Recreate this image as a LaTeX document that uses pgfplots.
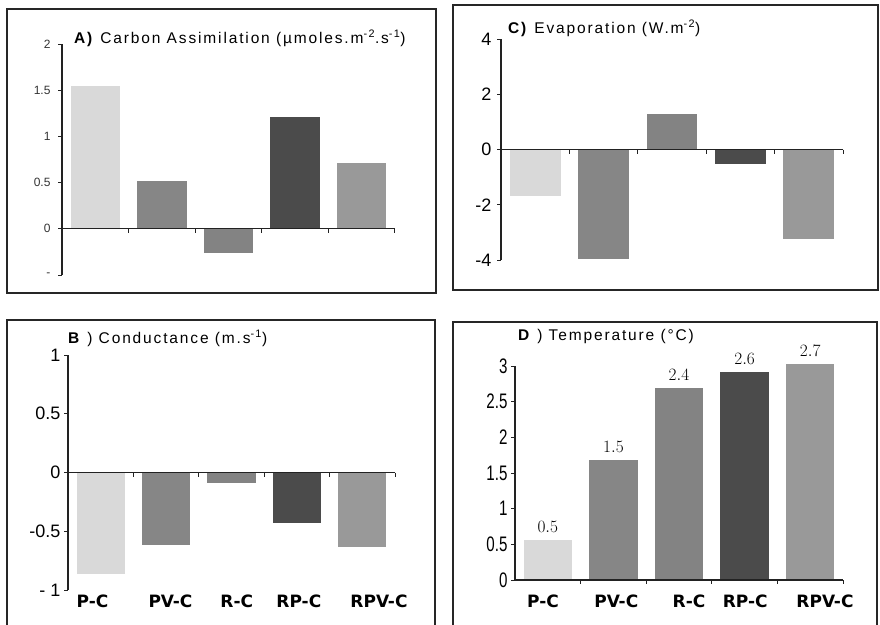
\documentclass[border=0pt]{standalone}
\usepackage{fontspec}
\usepackage{pgfplots}
\pgfplotsset{compat=1.18}
\setmainfont{Liberation Sans}
\newfontfamily\titlefont[LetterSpace=12]{Liberation Sans}
\newfontfamily\catfont{DejaVu Sans}
\newfontfamily\narrowfont[FakeStretch=0.72]{Liberation Sans}
\newfontfamily\valfont{Liberation Serif}

\definecolor{cPC}{HTML}{D9D9D9}
\definecolor{cPV}{HTML}{868686}
\definecolor{cR}{HTML}{838383}
\definecolor{cRP}{HTML}{4B4B4B}
\definecolor{cRPV}{HTML}{999999}
\definecolor{axisgray}{HTML}{222222}

\pgfplotsset{
  panel/.style={
    scale only axis, anchor=south west, clip=false,
    xmin=-0.5, xmax=4.5,
    axis y line=left, axis x line*=bottom,
    axis line style={-, line width=1.1pt, axisgray},
    x axis line style={draw=none},
    xtick=\empty, xtick style={draw=none},
    ytick align=outside, ytick style={line width=1pt, axisgray},
    major tick length=4pt,
  },
  bar/.style={ybar, bar shift=0pt, bar width=0.74, draw=none, fill=#1},
  catlabels/.style={
    xticklabels={P-C,PV-C,R-C,RP-C,RPV-C},
    xticklabel style={font=\catfont\bfseries\fontsize{17}{17}\selectfont, anchor=north},
  },
}

% zero line with tick marks between the categories
\newcommand\zeroaxis{%
  \draw[line width=1.1pt, axisgray] (axis cs:-0.5,0) -- (axis cs:4.5,0);
  \draw[line width=1pt, axisgray] (axis cs:0.5,0) -- ++(0pt,-4pt);
  \draw[line width=1pt, axisgray] (axis cs:1.5,0) -- ++(0pt,-4pt);
  \draw[line width=1pt, axisgray] (axis cs:2.5,0) -- ++(0pt,-4pt);
  \draw[line width=1pt, axisgray] (axis cs:3.5,0) -- ++(0pt,-4pt);
  \draw[line width=1pt, axisgray] (axis cs:4.5,0) -- ++(0pt,-4pt);
}

\begin{document}
\begin{tikzpicture}
\path[use as bounding box] (0pt,0pt) rectangle (880pt,-624pt);

% panel frames
\draw[line width=1.6pt, black!85] (7pt,-9pt) rectangle (436pt,-293pt);
\draw[line width=1.6pt, black!85] (453pt,-5pt) rectangle (878pt,-290pt);
\draw[line width=1.6pt, black!85] (7pt,-320pt) rectangle (435pt,-640pt);
\draw[line width=1.6pt, black!85] (453pt,-322pt) rectangle (877pt,-640pt);

% A) carbon assimilation
\begin{axis}[panel, at={(62pt,-275pt)}, width=333pt, height=231pt,
  ymin=-0.5, ymax=2, ytick={-0.5,0,0.5,1,1.5,2},
  yticklabels={-,0,0.5,1,1.5,2},
  yticklabel style={font=\fontsize{12}{12}\selectfont, text=black!80, xshift=-4pt}]
  \addplot[bar=cPC]  coordinates {(0,1.55)};
  \addplot[bar=cPV]  coordinates {(1,0.52)};
  \addplot[bar=cR]   coordinates {(2,-0.26)};
  \addplot[bar=cRP]  coordinates {(3,1.21)};
  \addplot[bar=cRPV] coordinates {(4,0.71)};
  \zeroaxis
\end{axis}
\node[anchor=base west, inner sep=0pt, font=\titlefont\fontsize{15.5}{15.5}\selectfont]
  at (74pt,-43pt) {\textbf{A)} Carbon Assimilation (µmoles.m\textsuperscript{-2}.s\textsuperscript{-1})};

% C) evaporation
\begin{axis}[panel, at={(501pt,-260pt)}, width=342pt, height=221pt,
  ymin=-4, ymax=4, ytick={-4,-2,0,2,4},
  yticklabels={-4,-2,0,2,4},
  yticklabel style={font=\fontsize{18}{18}\selectfont, xshift=-2pt}]
  \addplot[bar=cPC]  coordinates {(0,-1.68)};
  \addplot[bar=cPV]  coordinates {(1,-3.95)};
  \addplot[bar=cR]   coordinates {(2,1.29)};
  \addplot[bar=cRP]  coordinates {(3,-0.54)};
  \addplot[bar=cRPV] coordinates {(4,-3.25)};
  \zeroaxis
\end{axis}
\node[anchor=base west, inner sep=0pt, font=\titlefont\fontsize{15.5}{15.5}\selectfont]
  at (508pt,-33pt) {\textbf{C)} Evaporation (W.m\textsuperscript{-2})};

% B) conductance
\begin{axis}[panel, catlabels, at={(68pt,-590pt)}, width=327pt, height=235pt,
  ymin=-1, ymax=1, ytick={-1,-0.5,0,0.5,1},
  yticklabels={- 1,-0.5,0,0.5,1},
  yticklabel style={font=\fontsize{18}{18}\selectfont},
  xtick={-0.125,1.067,2.08,3.03,4.255},
  xticklabel style={yshift=-1pt}]
  \addplot[bar=cPC]  coordinates {(0,-0.86)};
  \addplot[bar=cPV]  coordinates {(1,-0.62)};
  \addplot[bar=cR]   coordinates {(2,-0.09)};
  \addplot[bar=cRP]  coordinates {(3,-0.43)};
  \addplot[bar=cRPV] coordinates {(4,-0.63)};
  \zeroaxis
\end{axis}
\node[anchor=base west, inner sep=0pt, font=\titlefont\fontsize{15.5}{15.5}\selectfont]
  at (68pt,-343pt) {\textbf{B} ) Conductance (m.s\textsuperscript{-1})};

% D) temperature
\begin{axis}[panel, catlabels, at={(515pt,-580pt)}, width=328pt, height=214pt,
  ymin=0, ymax=2.675,
  ytick={0,0.4458,0.8917,1.3375,1.7833,2.2292,2.675},
  yticklabels={0,0.5,1,1.5,2,2.5,3},
  yticklabel style={font=\narrowfont\fontsize{21}{21}\selectfont},
  xtick={-0.072,1.044,2.153,3.009,4.225},
  xticklabel style={yshift=-11pt},
  nodes near coords={\pgfmathprintnumber[fixed,fixed zerofill,precision=1]{\pgfplotspointmeta}},
  every node near coord/.append style={font=\valfont\bfseries\fontsize{16}{16}\selectfont, yshift=4pt}]
  \addplot[bar=cPC]  coordinates {(0,0.5)};
  \addplot[bar=cPV]  coordinates {(1,1.5)};
  \addplot[bar=cR]   coordinates {(2,2.4)};
  \addplot[bar=cRP]  coordinates {(3,2.6)};
  \addplot[bar=cRPV] coordinates {(4,2.7)};
  \zeroaxis
\end{axis}
\node[anchor=base west, inner sep=0pt, font=\titlefont\fontsize{15.5}{15.5}\selectfont]
  at (518pt,-340pt) {\textbf{D} ) Temperature (°C)};
\end{tikzpicture}
\end{document}
